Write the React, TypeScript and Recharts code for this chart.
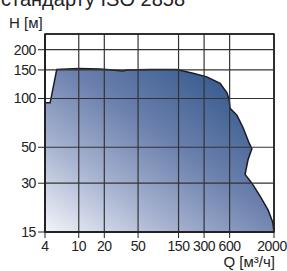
import { AreaChart, Area, XAxis, YAxis, ReferenceArea } from 'recharts';

// Q [m3/h] and H [m] along the outline of the operating range
const qValues = [4, 4, 4.6, 5.5, 10, 17.8, 25, 33, 37, 69, 143, 222, 323, 464, 560, 592, 608, 730, 865, 1020, 1097, 990, 912, 1097, 1371, 1706, 1936, 2000];
const hValues = [15, 94, 94, 151, 153, 152, 150, 148, 150, 151, 151, 143, 136, 124, 108, 98, 87, 79, 66, 53, 49, 42, 34, 30, 25, 20.5, 17.2, 15];

const qTicks = [4, 10, 20, 50, 150, 300, 600, 2000];
const hTicks = [15, 30, 50, 100, 150, 200];
const qDomain = [4, 2000];
const hDomain = [15, 250];

const data = qValues.map((q, i) => ({ q, h: hValues[i] }));

const font = "'Liberation Sans', Arial, sans-serif";
const ink = '#222';
const gridInk = '#333';

const CW = 287;
const CH = 271;
const margin = { top: 34, right: 13, bottom: 0, left: 0 };
const xAxisH = 39;
const yAxisW = 45;
const plotL = margin.left + yAxisW;
const plotT = margin.top;
const plotW = CW - margin.left - margin.right - yAxisW;
const plotH = CH - margin.top - margin.bottom - xAxisH;

// same log mapping the chart uses, for the grid overlay painted over the fill
const lg = Math.log10;
const sx = (q: number) => plotL + ((lg(q) - lg(qDomain[0])) / (lg(qDomain[1]) - lg(qDomain[0]))) * plotW;
const sy = (h: number) => plotT + plotH - ((lg(h) - lg(hDomain[0])) / (lg(hDomain[1]) - lg(hDomain[0]))) * plotH;

const XTick = (props: any) => {
  const { x, y, payload } = props;
  const shift = payload.value === qDomain[1] ? -2 : 0;
  return (
    <text x={x + shift} y={y + 11} textAnchor="middle" fontSize={14} fontFamily={font} fill={ink} letterSpacing={-0.4}>
      {payload.value}
    </text>
  );
};

const GridOverlay = () => (
  <svg width={CW} height={CH} style={{ position: 'absolute', left: 0, top: 0, zIndex: 10, pointerEvents: 'none' }}>
    {qTicks.slice(1).map((q) => (
      <line key={`q${q}`} x1={sx(q)} x2={sx(q)} y1={plotT} y2={plotT + plotH} stroke={q === qDomain[1] ? ink : gridInk} strokeWidth={q === qDomain[1] ? 1.5 : 1.2} />
    ))}
    {hTicks.slice(1).map((h) => (
      <line key={`h${h}`} x1={plotL} x2={plotL + plotW} y1={sy(h)} y2={sy(h)} stroke={gridInk} strokeWidth={1.2} />
    ))}
    <line x1={plotL} x2={plotL + plotW} y1={plotT} y2={plotT} stroke={ink} strokeWidth={1.5} />
    <line x1={plotL} x2={plotL} y1={plotT} y2={plotT + plotH} stroke={ink} strokeWidth={2} />
    <line x1={plotL} x2={plotL + plotW} y1={plotT + plotH} y2={plotT + plotH} stroke={ink} strokeWidth={2} />
  </svg>
);

const App = () => {
  return (
    <div style={{ position: 'absolute', left: 0, top: 0, width: CW, height: CH, background: '#fff', overflow: 'hidden' }}>
      <div style={{ position: 'absolute', left: 1, top: -12, fontFamily: font, fontSize: 20, color: ink, whiteSpace: 'nowrap' }}>
        стандарту ISO 2858
      </div>
      <div style={{ position: 'absolute', left: 9, top: 14, fontFamily: font, fontSize: 15, color: ink, whiteSpace: 'nowrap' }}>
        H [м]
      </div>
      <div style={{ position: 'absolute', right: 12, top: 253, fontFamily: font, fontSize: 15, color: ink, whiteSpace: 'nowrap' }}>
        Q [м³/ч]
      </div>
      <div style={{ position: 'absolute', left: 0, top: 0, zIndex: 1 }}>
        <AreaChart width={CW} height={CH} data={data} margin={margin}>
          <defs>
            <linearGradient id="rangeFill" x1="0" y1="1" x2="1" y2="0">
              <stop offset="0%" stopColor="#f3f4fa" />
              <stop offset="28%" stopColor="#a7b3d0" />
              <stop offset="55%" stopColor="#6b80ad" />
              <stop offset="100%" stopColor="#1f4a80" />
            </linearGradient>
          </defs>
          <ReferenceArea x1={qDomain[0]} x2={qDomain[1]} y1={hDomain[0]} y2={hDomain[1]} fill="none" fillOpacity={0} stroke={ink} strokeWidth={1.5} ifOverflow="extendDomain" />
          <Area
            type="linear"
            dataKey="h"
            baseValue={15}
            stroke="#1b1b26"
            strokeWidth={1.5}
            fill="url(#rangeFill)"
            fillOpacity={1}
            dot={false}
            activeDot={false}
            isAnimationActive={false}
          />
          <XAxis
            dataKey="q"
            type="number"
            scale="log"
            domain={qDomain}
            ticks={qTicks}
            interval={0}
            allowDataOverflow
            height={xAxisH}
            tickSize={6}
            axisLine={{ stroke: ink, strokeWidth: 2 }}
            tickLine={{ stroke: ink }}
            tick={<XTick />}
          />
          <YAxis
            type="number"
            scale="log"
            domain={hDomain}
            ticks={hTicks}
            interval={0}
            allowDataOverflow
            width={yAxisW}
            tickSize={7}
            tickMargin={2}
            axisLine={{ stroke: ink, strokeWidth: 2 }}
            tickLine={{ stroke: ink }}
            tick={{ fontSize: 14, fontFamily: font, fill: ink, letterSpacing: -0.4 }}
          />
        </AreaChart>
      </div>
      <GridOverlay />
    </div>
  );
};

export default App;
